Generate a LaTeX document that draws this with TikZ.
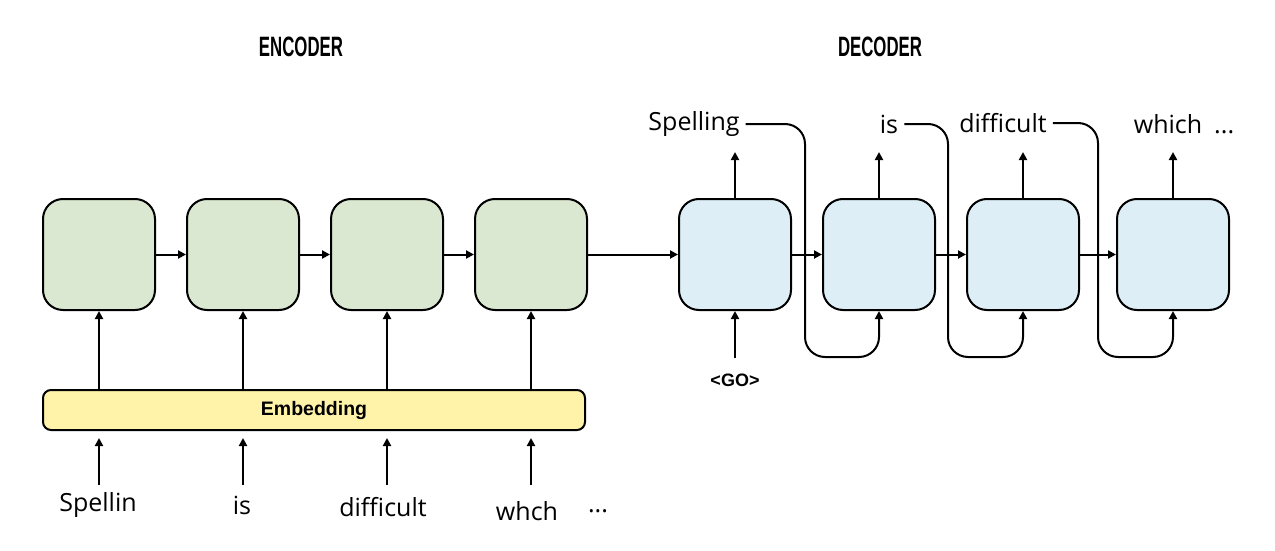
\documentclass[tikz,border=0pt]{standalone}
\usepackage{fontspec}
\setmainfont{Open Sans}
\newfontfamily\titlefont[FakeStretch=0.6]{Liberation Sans}
\newfontfamily\boldsans{Liberation Sans}
\usetikzlibrary{arrows.meta,calc}
\definecolor{encfill}{RGB}{218,231,209}
\definecolor{decfill}{RGB}{221,238,246}
\definecolor{embfill}{RGB}{255,243,170}
\begin{document}
\begin{tikzpicture}[x=1pt,y=-1pt,
  cell/.style={draw=black, line width=2pt, rounded corners=20pt, minimum width=112pt, minimum height=111pt, inner sep=0pt},
  enc/.style={cell, fill=encfill},
  dec/.style={cell, fill=decfill},
  emb/.style={draw=black, line width=2pt, rounded corners=8pt, fill=embfill, minimum width=542pt, minimum height=40pt, inner sep=0pt, font=\boldsans\bfseries\fontsize{19.5}{22}\selectfont},
  arr/.style={line width=2pt, -{Triangle[length=8pt,width=8pt]}},
  fb/.style={arr, rounded corners=20pt},
  word/.style={font=\fontsize{25}{29}\selectfont, inner ysep=2pt, inner xsep=6pt},
  ttl/.style={font=\titlefont\bfseries\fontsize{28}{32}\selectfont},
  gol/.style={font=\boldsans\bfseries\fontsize{18}{21}\selectfont}
]
\useasboundingbox (0,0) rectangle (1275,551);
% titles
\node[ttl] (tenc) at (301,47) {ENCODER};
\node[ttl] (tdec) at (880,47) {DECODER};
% encoder cells
\node[enc] (e1) at (99,254.5) {};
\node[enc] (e2) at (243,254.5) {};
\node[enc] (e3) at (387,254.5) {};
\node[enc] (e4) at (531,254.5) {};
% decoder cells
\node[dec] (d1) at (735,254.5) {};
\node[dec] (d2) at (879,254.5) {};
\node[dec] (d3) at (1023,254.5) {};
\node[dec] (d4) at (1173,254.5) {};
% embedding
\node[emb] (emb) at (314,410) {Embedding};
% horizontal connections
\draw[arr] (e1) -- (e2);
\draw[arr] (e2) -- (e3);
\draw[arr] (e3) -- (e4);
\draw[arr] (e4) -- (d1);
\draw[arr] (d1) -- (d2);
\draw[arr] (d2) -- (d3);
\draw[arr] (d3) -- (d4);
% embedding to encoder
\foreach \e in {e1,e2,e3,e4}{
  \draw[arr] (emb.north -| \e) -- (\e.south);
}
% input words
\node[word] (w1) at (98,505) {Spellin};
\node[word] (w2) at (242,505) {is};
\node[word] (w3) at (383,507) {difficult};
\node[word] (w4) at (527,511) {whch};
\node[word] (w5) at (598,511) {...};
\coordinate (inb) at (0,485);
\foreach \e in {e1,e2,e3,e4}{
  \draw[arr, shorten >=7pt] (inb -| \e) -- (emb.south -| \e);
}
% decoder outputs
\coordinate (top) at (0,152);
\foreach \d in {d1,d2,d3,d4}{
  \draw[arr] (\d.north) -- (top -| \d);
}
\node[word] (o1) at (694,124) {Spelling};
\node[word] (o2) at (889,124) {is};
\node[word] (o3) at (1003,123) {difficult};
\node[word] (o4) at (1184,124) {which\hspace{12pt}...};
% GO input
\node[gol] (go) at (735,380) {<GO>};
\coordinate (gob) at (735,358);
\draw[arr] (gob) -- (d1.south);
% feedback
\coordinate (f1) at (805,357);
\coordinate (f2) at (948,357);
\coordinate (f3) at (1098,357);
\draw[fb] (o1.east) -| (f1) -| (d2.south);
\draw[fb] (o2.east) -| (f2) -| (d3.south);
\draw[fb] (o3.east) -| (f3) -| (d4.south);
\end{tikzpicture}
\end{document}
